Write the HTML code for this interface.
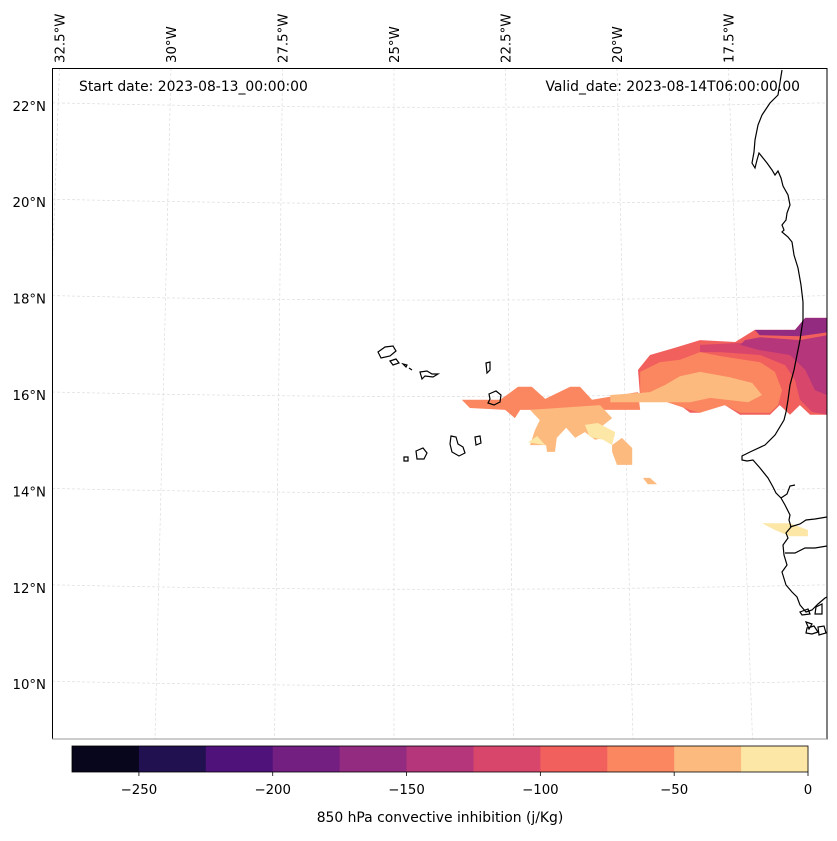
<!DOCTYPE html>
<html><head><meta charset="utf-8">
<style>
html,body{margin:0;padding:0;background:#fff;}
svg text{font-family:"DejaVu Sans","Liberation Sans",sans-serif;fill:#000;}
</style></head>
<body>
<svg id="chart" width="837" height="836" viewBox="0 0 837 836" xmlns="http://www.w3.org/2000/svg">
<defs><clipPath id="mapclip"><rect x="52" y="68" width="775" height="671"/></clipPath></defs>
<g id="grid" clip-path="url(#mapclip)"></g>
<g id="fills" clip-path="url(#mapclip)"></g>
<g id="coast" clip-path="url(#mapclip)" fill="none" stroke="#000" stroke-width="1.2">
<path d="M782,70 L781,76 L778,95 L770,103 L762,115 L758,125 L755,140 L754,152 L752,163 L755,168 L757,160 L759,153 L763,158 L767,163 L772,170 L775,175 L778,171 L781,178 L783,186 L788,195 L790,205 L787,213 L786,220 L782,225 L784,230 L782,232 L788,237 L792,242 L794,255 L798,268 L801,285 L803,302 L803,320 L800,340 L797,355 L794,370 L790,385 L788,400 L786,412 L784,420 L775,435 L765,445 L750,452 L742,456 L742,460 L747,461 L753,460 L760,468 L768,478 L773,487 L776,493 L781,498 L785,505 L790,515 L789,520 L791,527 L786,533 L788,538 L783,545 L784,555 L787,565 L782,572 L786,585 L792,592 L797,597 L800,605 L806,612 L812,610 L818,604 L825,598 L827,597"/>
<path d="M790,527 L800,524 L806,520 L815,519 L827,517"/>
<path d="M785,553 L795,553 L805,548 L815,548 L827,546"/>
<path d="M781,498 L787,494 L790,486 L795,485"/>
<path d="M800,612 L808,609 L810,614 L802,615Z M816,607 L822,604 L822,614 L815,614Z M806,622 L812,624 L809,629Z M807,628 L814,626 L818,632 L812,634 L806,633Z M818,627 L824,626 L826,633 L819,635Z"/>
<path d="M378,352 L385,347 L393,346 L396,351 L390,356 L381,358Z"/>
<path d="M390,361 L396,359 L399,363 L393,365Z"/>
<path d="M403,364 L407,365 L406,367Z M409,368 L412,370"/>
<path d="M420,372 L427,371 L432,374 L438,374 L433,377 L425,376 L422,379Z"/>
<path d="M486,363 L490,362 L490,370 L487,373Z"/>
<path d="M489,394 L496,391 L501,395 L500,402 L494,405 L488,403 L490,399Z"/>
<path d="M475,437 L480,436 L481,443 L476,445Z"/>
<path d="M451,436 L456,437 L458,444 L463,447 L465,453 L459,456 L452,452 L450,444Z"/>
<path d="M416,451 L423,448 L427,453 L424,459 L417,459Z"/>
<path d="M404,457 L408,457 L408,461 L404,461Z"/>
</g>
<rect x="52.5" y="68.5" width="774.5" height="670.5" fill="none" stroke="#000" stroke-width="1"/>
<line x1="52" y1="739" x2="827" y2="739" stroke="#999" stroke-width="1"/>
<text x="79" y="91" font-size="13.9">Start date: 2023-08-13_00:00:00</text>
<text x="800" y="91" font-size="13.9" text-anchor="end">Valid_date: 2023-08-14T06:00:00.00</text>
<g id="latlabels"></g>
<g id="lonlabels"></g>
<g id="cbar"></g>
<text x="440" y="822" font-size="13.9" text-anchor="middle">850 hPa convective inhibition (j/Kg)</text>
</svg>
<script>
// colorbar data
const levels = [-275,-250,-225,-200,-175,-150,-125,-100,-75,-50,-25,0];
const levelColors = ["#07061c","#221150","#4f127b","#721f81","#932b80","#b5367a","#d9466b","#f1605d","#fb8761","#fdba7f","#fde7a6"];
const cbarTicks = [-250,-200,-150,-100,-50,0];
const latTicks = [22,20,18,16,14,12,10];
const lonTicks = [-32.5,-30,-27.5,-25,-22.5,-20,-17.5];

// contour polygons: [levelIndex, [[lon,lat],...]]
const shapeRedEast = [7, [[-19.53,16.52],[-19.26,16.83],[-18.70,16.98],[-18.14,17.14],[-17.35,17.10],[-16.91,17.35],[-16.01,17.35],[-15.78,17.60],[-15.29,17.60],[-15.29,15.59],[-15.67,15.59],[-15.90,15.79],[-16.12,15.59],[-16.35,15.79],[-16.57,15.59],[-17.24,15.59],[-17.58,15.79],[-17.91,15.73],[-18.14,15.63],[-18.36,15.63],[-18.59,15.79],[-19.04,15.90],[-19.48,15.94]]];
const shapePinkEast = [6, [[-18.14,17.04],[-17.24,17.08],[-16.12,16.98],[-15.78,16.93],[-15.29,16.93],[-15.29,15.59],[-15.63,15.65],[-15.90,15.90],[-16.01,16.31],[-16.23,16.62],[-16.79,16.83],[-17.69,16.89],[-18.14,16.89]]];
const shapeMagentaEast = [5, [[-17.13,17.14],[-16.79,17.20],[-15.90,17.14],[-15.29,17.24],[-15.29,16.00],[-15.56,16.10],[-15.78,16.52],[-16.12,16.83],[-16.79,16.93],[-17.24,17.04]]];
const shapePurpleEast = [4, [[-16.91,17.35],[-16.01,17.35],[-15.78,17.60],[-15.29,17.60],[-15.29,17.30],[-15.90,17.22],[-16.80,17.24]]];
const shapeOrangeEast = [8, [[-19.48,16.48],[-19.04,16.68],[-18.59,16.73],[-18.14,16.89],[-17.69,16.81],[-16.79,16.68],[-16.46,16.48],[-16.30,16.10],[-16.39,15.79],[-16.57,15.63],[-17.24,15.63],[-17.58,15.79],[-18.14,15.63],[-18.36,15.69],[-19.04,15.90],[-19.48,16.06]]];
const shapeOrangeWest = [8, [[-23.48,15.90],[-22.62,15.90],[-22.22,16.17],[-21.91,16.17],[-21.61,15.92],[-21.05,16.17],[-20.83,16.17],[-20.56,15.90],[-19.53,16.06],[-19.48,15.69],[-22.17,15.69],[-22.29,15.52],[-22.51,15.69],[-23.30,15.73]]];
const shapeLightWest = [9, [[-21.95,15.69],[-20.38,15.79],[-20.11,15.52],[-20.38,15.32],[-20.04,15.15],[-20.49,15.07],[-20.72,15.23],[-20.94,15.11],[-21.14,15.32],[-21.35,15.11],[-21.39,14.82],[-21.57,14.82],[-21.59,14.96],[-21.95,14.96],[-21.84,15.27],[-21.73,15.48]]];
const shapeLightSpur = [9, [[-20.11,14.96],[-19.89,15.11],[-19.66,14.90],[-19.66,14.55],[-20.00,14.55],[-20.11,14.82]]];
const shapeLightSmall = [9, [[-19.42,14.28],[-19.26,14.28],[-19.10,14.15],[-19.31,14.15]]];
const shapeLightEast = [9, [[-20.15,16.00],[-19.26,16.06],[-18.92,16.21],[-18.59,16.39],[-18.14,16.48],[-17.47,16.37],[-16.97,16.25],[-16.75,16.00],[-17.06,15.85],[-17.91,15.94],[-18.36,15.85],[-19.04,15.85],[-20.15,15.85]]];
const shapeYellowA = [10, [[-20.72,15.38],[-20.43,15.42],[-20.04,15.23],[-20.11,14.96],[-20.31,15.07],[-20.61,15.13]]];
const shapeYellowB = [10, [[-21.99,15.02],[-21.79,15.15],[-21.61,14.96]]];
const shapeYellowSenegal = [10, [[-16.75,13.34],[-16.12,13.34],[-15.72,13.20],[-15.72,13.07],[-16.12,13.07],[-16.46,13.20]]];
const shapes = [shapeRedEast, shapePinkEast, shapeMagentaEast, shapePurpleEast, shapeOrangeEast, shapeOrangeWest, shapeLightWest, shapeLightSpur, shapeLightSmall, shapeLightEast, shapeYellowA, shapeYellowB, shapeYellowSenegal];

const NS = "http://www.w3.org/2000/svg";
function px(lon){ return 394 + (lon + 25) * 44.6; }
function py(lat){ return 395 - (lat - 16) * 48.2; }
function cx(v){ return 72 + (v - levels[0]) / (levels[levels.length-1] - levels[0]) * 736; }
function mk(tag, attrs, parent){ const e=document.createElementNS(NS,tag); for(const k in attrs) e.setAttribute(k,attrs[k]); parent.appendChild(e); return e; }

// graticule
const grid = document.getElementById('grid');
lonTicks.forEach(function(lon){
  const xt = px(lon), xb = xt + (lon + 25) * 3.2;
  const l = mk('line', {x1:xt, y1:68, x2:xb, y2:739, stroke:'#ddd', 'stroke-width':0.7, 'stroke-dasharray':'3,2'}, grid);
  
  
});
latTicks.forEach(function(lat){
  const y = py(lat);
  const p = mk('path', {d:'M52,'+(y-3)+' Q440,'+(y+6)+' 827,'+(y-3), fill:'none', stroke:'#ddd', 'stroke-width':0.7, 'stroke-dasharray':'3,2'}, grid);
  
  
});

// fills
const fills = document.getElementById('fills');
shapes.forEach(function(s){
  const pts = s[1].map(function(q){ return px(q[0]).toFixed(1)+','+py(q[1]).toFixed(1); }).join(' ');
  const pg = mk('polygon', {points:pts, fill:levelColors[s[0]]}, fills);
  
  
});

// lat labels
const latG = document.getElementById('latlabels');
latTicks.forEach(function(lat){
  const t = mk('text', {x:46, y:py(lat)+5, 'font-size':13.3, 'text-anchor':'end'}, latG);
  t.textContent = lat + '°N';
  
  
});
// lon labels
const lonG = document.getElementById('lonlabels');
lonTicks.forEach(function(lon){
  const x = px(lon) + 5;
  const t = mk('text', {x:x, y:63, 'font-size':13.3, transform:'rotate(-90 '+x+' 63)'}, lonG);
  t.textContent = (-lon) + '°W';
  
  
});

// colorbar
const cb = document.getElementById('cbar');
for (let i=0;i<levelColors.length;i++){
  const x0 = cx(levels[i]), x1 = cx(levels[i+1]);
  const r = mk('rect', {x:x0, y:746, width:x1-x0+0.5, height:26, fill:levelColors[i]}, cb);
  
  
}
mk('rect', {x:72, y:746, width:736, height:26, fill:'none', stroke:'#000', 'stroke-width':0.8}, cb);
cbarTicks.forEach(function(v){
  const x = cx(v);
  mk('line', {x1:x, y1:772, x2:x, y2:776, stroke:'#000', 'stroke-width':0.8}, cb);
  const t = mk('text', {x:x, y:794, 'font-size':13.3, 'text-anchor':'middle'}, cb);
  t.textContent = v < 0 ? '\u2212' + Math.abs(v) : String(v);
  
  
});
</script>
</body></html>
